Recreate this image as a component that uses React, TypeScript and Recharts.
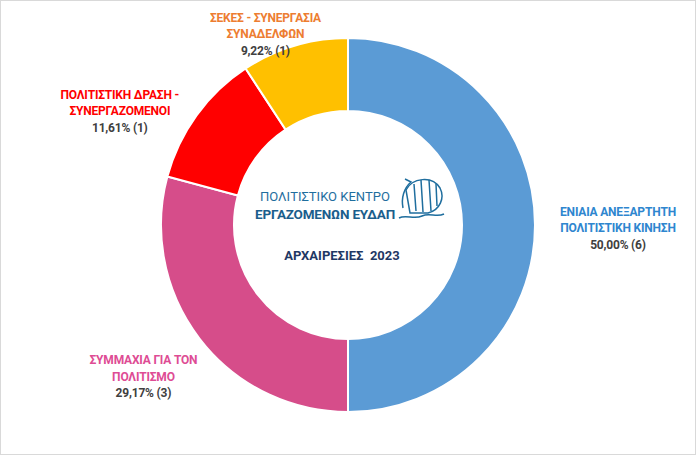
import { PieChart, Pie, Cell } from "recharts";

// Election results 2023 - share of votes and seats per list
const listNames = [
  ["ΕΝΙΑΙΑ ΑΝΕΞΑΡΤΗΤΗ", "ΠΟΛΙΤΙΣΤΙΚΗ ΚΙΝΗΣΗ"],
  ["ΣΥΜΜΑΧΙΑ ΓΙΑ ΤΟΝ", "ΠΟΛΙΤΙΣΜΟ"],
  ["ΠΟΛΙΤΙΣΤΙΚΗ ΔΡΑΣΗ -", "ΣΥΝΕΡΓΑΖΟΜΕΝΟΙ"],
  ["ΣΕΚΕΣ - ΣΥΝΕΡΓΑΣΙΑ", "ΣΥΝΑΔΕΛΦΩΝ"],
];
const voteShares = [50.0, 29.17, 11.61, 9.22];
const seats = [6, 3, 1, 1];

const SLICE_COLORS = ["#5B9BD5", "#D64D8A", "#FF0000", "#FFC000"];
const LABEL_COLORS = ["#2E86CF", "#DE4C94", "#FF0000", "#ED7D31"];

const data = voteShares.map((v, i) => ({
  name: listNames[i].join(" "),
  value: v,
}));

const RADIAN = Math.PI / 180;
const FONT = "Roboto, 'Open Sans', sans-serif";

const renderLabel = (props: any) => {
  const { cx, cy, midAngle, outerRadius, index } = props;
  const c = Math.cos(-midAngle * RADIAN);
  const s = Math.sin(-midAngle * RADIAN);
  // labels sit a bit outside the ring, pulled towards the sides
  const x = cx + c * (outerRadius + 83 - 20 * s);
  const y = cy + (outerRadius + 37) * s + 4 + 20 * Math.abs(s) + 6 * Math.max(0, -s) * Math.abs(c);
  const pct = voteShares[index].toFixed(2).replace(".", ",");
  const lines = listNames[index];
  const common = {
    x,
    textAnchor: "middle" as const,
    dominantBaseline: "middle" as const,
    fontFamily: FONT,
    fontSize: 12,
    fontWeight: 700,
    letterSpacing: -0.2,
  };
  return (
    <g key={`lbl-${index}`}>
      {lines.map((l, k) => (
        <text key={k} {...common} y={y + (k - 1) * 16.5} fill={LABEL_COLORS[index]}>
          {l}
        </text>
      ))}
      <text {...common} y={y + 16.5} fill="#404040">
        {`${pct}% (${seats[index]})`}
      </text>
    </g>
  );
};

function CenterLogo() {
  return (
    <svg
      width={696}
      height={455}
      style={{ position: "absolute", left: 0, top: 0, pointerEvents: "none" }}
    >
      <text
        x={325}
        y={198}
        textAnchor="middle"
        dominantBaseline="middle"
        fontFamily={FONT}
        fontSize={13}
        fill="#1F6E9E"
      >
        ΠΟΛΙΤΙΣΤΙΚΟ ΚΕΝΤΡΟ
      </text>
      <text
        x={325}
        y={215}
        textAnchor="middle"
        dominantBaseline="middle"
        fontFamily={FONT}
        fontSize={13.5}
        fontWeight={700}
        fill="#1B5E8C"
        letterSpacing={-0.2}
      >
        ΕΡΓΑΖΟΜΕΝΩΝ ΕΥΔΑΠ
      </text>
      {/* small ship emblem */}
      <g stroke="#1F6E9E" fill="none" strokeWidth={1.5}>
        <path d="M406 190 C412 178, 432 175, 440 188 C445 198, 440 210, 428 213 L410 213 Z" />
        <path d="M414 184 L416 211 M421 180 L423 212 M429 180 L431 211 M436 184 L437 206" />
        <path d="M403 208 C401 198, 404 188, 411 182 L405 179" />
        <path d="M399 218 C406 214, 414 220, 422 216 C430 212, 436 218, 444 214" />
      </g>
      <text
        x={342}
        y={257}
        textAnchor="middle"
        dominantBaseline="middle"
        fontFamily={FONT}
        fontSize={13}
        fontWeight={700}
        fill="#1F3864"
        style={{ whiteSpace: "pre" }}
      >
        {"ΑΡΧΑΙΡΕΣΙΕΣ  2023"}
      </text>
    </svg>
  );
}

export default function App() {
  return (
    <div
      style={{
        position: "absolute",
        left: 0,
        top: 0,
        width: 696,
        height: 455,
        border: "1px solid #d9d9d9",
        boxSizing: "border-box",
        background: "#fff",
      }}
    >
      <div style={{ position: "absolute", left: -1, top: -1 }}>
        <PieChart width={696} height={455} margin={{ top: 0, right: 0, bottom: 0, left: 0 }}>
          <Pie
            data={data}
            dataKey="value"
            nameKey="name"
            cx={348}
            cy={225}
            innerRadius={114}
            outerRadius={187}
            startAngle={90}
            endAngle={-270}
            stroke="#ffffff"
            strokeWidth={2}
            labelLine={false}
            label={renderLabel}
            isAnimationActive={false}
          >
            {data.map((_, i) => (
              <Cell key={`cell-${i}`} fill={SLICE_COLORS[i]} />
            ))}
          </Pie>
        </PieChart>
        <CenterLogo />
      </div>
    </div>
  );
}
